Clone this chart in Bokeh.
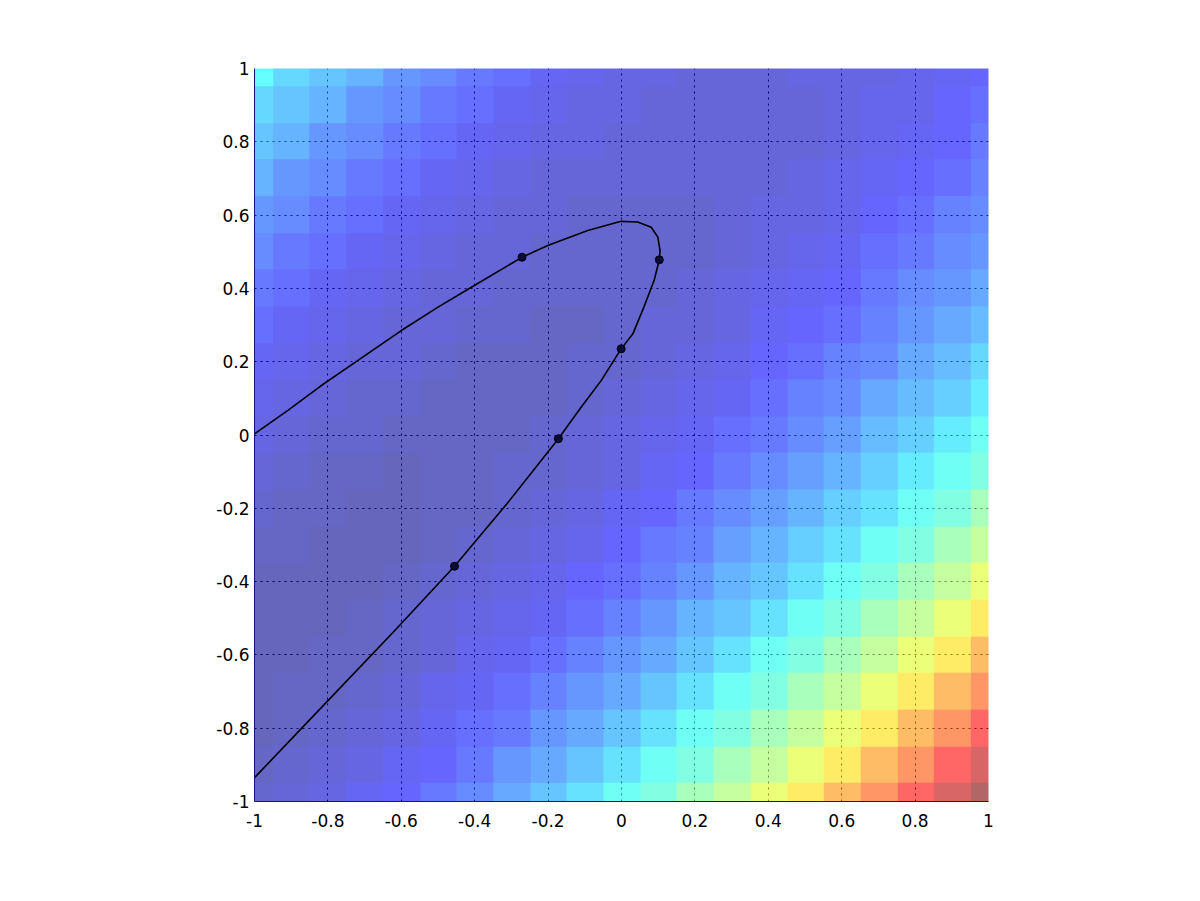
import numpy as np
from bokeh.plotting import figure
from bokeh.models import Range1d, FixedTicker, CustomJSTickFormatter, LinearColorMapper
from bokeh.embed import file_html
from bokeh.resources import INLINE

# ---- heat-map values (0 = darkest blue, 1 = dark red)
# rows from y = 1.0 (top) down to y = -1.0, columns x = -1.0 .. 1.0, step 0.1
field_rows = [
    [0.36, 0.31, 0.27, 0.235, 0.20, 0.175, 0.15, 0.125, 0.105, 0.085, 0.07, 0.065, 0.061, 0.059, 0.060, 0.065, 0.067, 0.073, 0.086, 0.099, 0.117],
    [0.31, 0.27, 0.235, 0.20, 0.175, 0.15, 0.125, 0.105, 0.085, 0.07, 0.064, 0.059, 0.055, 0.056, 0.059, 0.061, 0.067, 0.080, 0.093, 0.111, 0.129],
    [0.27, 0.235, 0.20, 0.175, 0.15, 0.125, 0.105, 0.085, 0.07, 0.063, 0.057, 0.052, 0.051, 0.054, 0.055, 0.061, 0.074, 0.087, 0.105, 0.123, 0.146],
    [0.235, 0.20, 0.175, 0.15, 0.125, 0.105, 0.085, 0.07, 0.062, 0.055, 0.049, 0.047, 0.048, 0.050, 0.056, 0.068, 0.081, 0.099, 0.117, 0.140, 0.163],
    [0.20, 0.175, 0.15, 0.125, 0.105, 0.085, 0.07, 0.061, 0.053, 0.046, 0.043, 0.043, 0.045, 0.050, 0.063, 0.076, 0.093, 0.111, 0.134, 0.157, 0.185],
    [0.175, 0.15, 0.125, 0.105, 0.085, 0.07, 0.060, 0.052, 0.044, 0.040, 0.039, 0.040, 0.045, 0.058, 0.070, 0.088, 0.106, 0.128, 0.151, 0.179, 0.201],
    [0.15, 0.125, 0.105, 0.085, 0.07, 0.060, 0.05, 0.041, 0.036, 0.034, 0.035, 0.041, 0.053, 0.065, 0.083, 0.100, 0.123, 0.146, 0.173, 0.196, 0.232],
    [0.125, 0.105, 0.085, 0.07, 0.059, 0.048, 0.039, 0.033, 0.030, 0.031, 0.036, 0.048, 0.061, 0.078, 0.095, 0.118, 0.140, 0.168, 0.192, 0.228, 0.263],
    [0.105, 0.085, 0.07, 0.058, 0.047, 0.037, 0.030, 0.026, 0.027, 0.032, 0.044, 0.056, 0.073, 0.091, 0.113, 0.135, 0.163, 0.187, 0.223, 0.259, 0.297],
    [0.085, 0.07, 0.057, 0.046, 0.034, 0.027, 0.022, 0.023, 0.028, 0.040, 0.052, 0.069, 0.086, 0.108, 0.131, 0.158, 0.183, 0.219, 0.255, 0.294, 0.333],
    [0.07, 0.057, 0.044, 0.032, 0.024, 0.019, 0.019, 0.024, 0.036, 0.048, 0.065, 0.082, 0.104, 0.126, 0.153, 0.179, 0.215, 0.252, 0.291, 0.331, 0.375],
    [0.056, 0.043, 0.031, 0.022, 0.015, 0.016, 0.021, 0.032, 0.044, 0.061, 0.078, 0.10, 0.122, 0.149, 0.175, 0.212, 0.248, 0.288, 0.330, 0.375, 0.42],
    [0.042, 0.029, 0.019, 0.012, 0.013, 0.017, 0.029, 0.041, 0.057, 0.074, 0.096, 0.118, 0.145, 0.172, 0.208, 0.245, 0.285, 0.328, 0.375, 0.42, 0.47],
    [0.027, 0.017, 0.010, 0.010, 0.014, 0.026, 0.037, 0.054, 0.071, 0.092, 0.114, 0.141, 0.168, 0.205, 0.242, 0.283, 0.327, 0.375, 0.42, 0.47, 0.52],
    [0.015, 0.007, 0.007, 0.012, 0.023, 0.034, 0.051, 0.067, 0.089, 0.111, 0.137, 0.165, 0.202, 0.238, 0.28, 0.326, 0.375, 0.42, 0.47, 0.52, 0.58],
    [0.005, 0.005, 0.009, 0.020, 0.032, 0.048, 0.064, 0.086, 0.107, 0.134, 0.162, 0.199, 0.236, 0.278, 0.325, 0.375, 0.42, 0.47, 0.52, 0.58, 0.65],
    [0.003, 0.007, 0.018, 0.029, 0.045, 0.062, 0.083, 0.104, 0.131, 0.159, 0.196, 0.233, 0.275, 0.323, 0.375, 0.42, 0.47, 0.52, 0.58, 0.65, 0.72],
    [0.005, 0.016, 0.027, 0.043, 0.059, 0.080, 0.102, 0.128, 0.157, 0.194, 0.231, 0.273, 0.322, 0.375, 0.42, 0.47, 0.52, 0.58, 0.65, 0.72, 0.79],
    [0.014, 0.025, 0.041, 0.057, 0.078, 0.099, 0.125, 0.154, 0.191, 0.228, 0.272, 0.321, 0.375, 0.42, 0.47, 0.52, 0.58, 0.65, 0.72, 0.79, 0.86],
    [0.023, 0.039, 0.055, 0.076, 0.097, 0.123, 0.152, 0.189, 0.226, 0.270, 0.320, 0.375, 0.42, 0.47, 0.52, 0.58, 0.65, 0.72, 0.79, 0.86, 0.93],
    [0.037, 0.053, 0.074, 0.095, 0.121, 0.150, 0.187, 0.224, 0.268, 0.319, 0.375, 0.42, 0.47, 0.52, 0.58, 0.65, 0.72, 0.79, 0.86, 0.93, 1.0],
]

# ---- black curve
curve_x = [-1.0, -0.909, -0.818, -0.728, -0.600, -0.500, -0.401, -0.271, -0.201, -0.092, -0.001,
           0.044, 0.081, 0.099, 0.105, 0.103, 0.089, 0.061, 0.031, -0.001, -0.055, -0.110, -0.172,
           -0.310, -0.455, -0.619, -0.818, -1.0]
curve_y = [0.003, 0.067, 0.135, 0.197, 0.285, 0.349, 0.408, 0.485, 0.517, 0.558, 0.583,
           0.581, 0.567, 0.540, 0.503, 0.478, 0.422, 0.349, 0.276, 0.235, 0.149, 0.076, -0.010,
           -0.185, -0.358, -0.535, -0.744, -0.935]

# ---- dots on the curve
dots_x = [-0.271, 0.103, -0.001, -0.172, -0.455]
dots_y = [0.485, 0.478, 0.235, -0.010, -0.358]

# ---- ticks
tick_values = [-1, -0.8, -0.6, -0.4, -0.2, 0, 0.2, 0.4, 0.6, 0.8, 1]
tick_labels = ["-1", "-0.8", "-0.6", "-0.4", "-0.2", "0", "0.2", "0.4", "0.6", "0.8", "1"]


def jet_palette(n=64):
    m = n // 4
    u = [k / m for k in range(1, m + 1)] + [1.0] * (m - 1) + [k / m for k in range(m, 0, -1)]
    g0 = m // 2
    cols = []
    for c in range(1, n + 1):
        def comp(offset):
            k = c - offset
            return u[k - 1] if 1 <= k <= len(u) else 0.0
        g = comp(g0)
        r = comp(g0 + m)
        b = comp(g0 - m)
        cols.append("#%02x%02x%02x" % (round(r * 255), round(g * 255), round(b * 255)))
    return cols


jet64 = jet_palette(64)

p = figure(width=1048, height=861,
           x_range=Range1d(-1, 1), y_range=Range1d(-1, 1),
           output_backend="svg", toolbar_location=None,
           min_border_left=254, min_border_right=60,
           min_border_top=68, min_border_bottom=60)
p.background_fill_color = "white"
p.border_fill_color = "white"
p.outline_line_color = None

img = np.flipud(np.array(field_rows, dtype=float))
mapper = LinearColorMapper(palette=jet64, low=0.0, high=1.0)
p.image(image=[img], x=-1.05, y=-1.05, dw=2.1, dh=2.1,
        color_mapper=mapper, global_alpha=0.6)

p.line(curve_x, curve_y, line_color="black", line_width=1.6, line_join="round")
p.scatter(dots_x, dots_y, size=8, fill_color="#0b0b3a", line_color="black", line_width=1)

fmt = CustomJSTickFormatter(args=dict(vals=tick_values, labs=tick_labels), code="""
for (let k = 0; k < vals.length; k++) { if (Math.abs(vals[k] - tick) < 1e-9) return labs[k]; }
return String(tick);
""")

for ax in (p.xaxis[0], p.yaxis[0]):
    ax.ticker = FixedTicker(ticks=tick_values)
    ax.formatter = fmt
    ax.major_tick_line_color = None
    ax.minor_tick_line_color = None
    ax.major_tick_out = 0
    ax.major_tick_in = 0
    ax.axis_line_color = "#14147a"
    ax.axis_line_width = 1
    ax.major_label_text_font = "DejaVu Sans"
    ax.major_label_text_font_size = "17px"
    ax.major_label_text_color = "black"

p.xaxis[0].major_label_standoff = 12
p.yaxis[0].major_label_standoff = 5

for g in (p.xgrid[0], p.ygrid[0]):
    g.ticker = FixedTicker(ticks=tick_values)
    g.grid_line_color = "black"
    g.grid_line_alpha = 1.0
    g.grid_line_width = 1
    g.grid_line_dash = "2 4"

open("out.html", "w").write(file_html(p, INLINE))
